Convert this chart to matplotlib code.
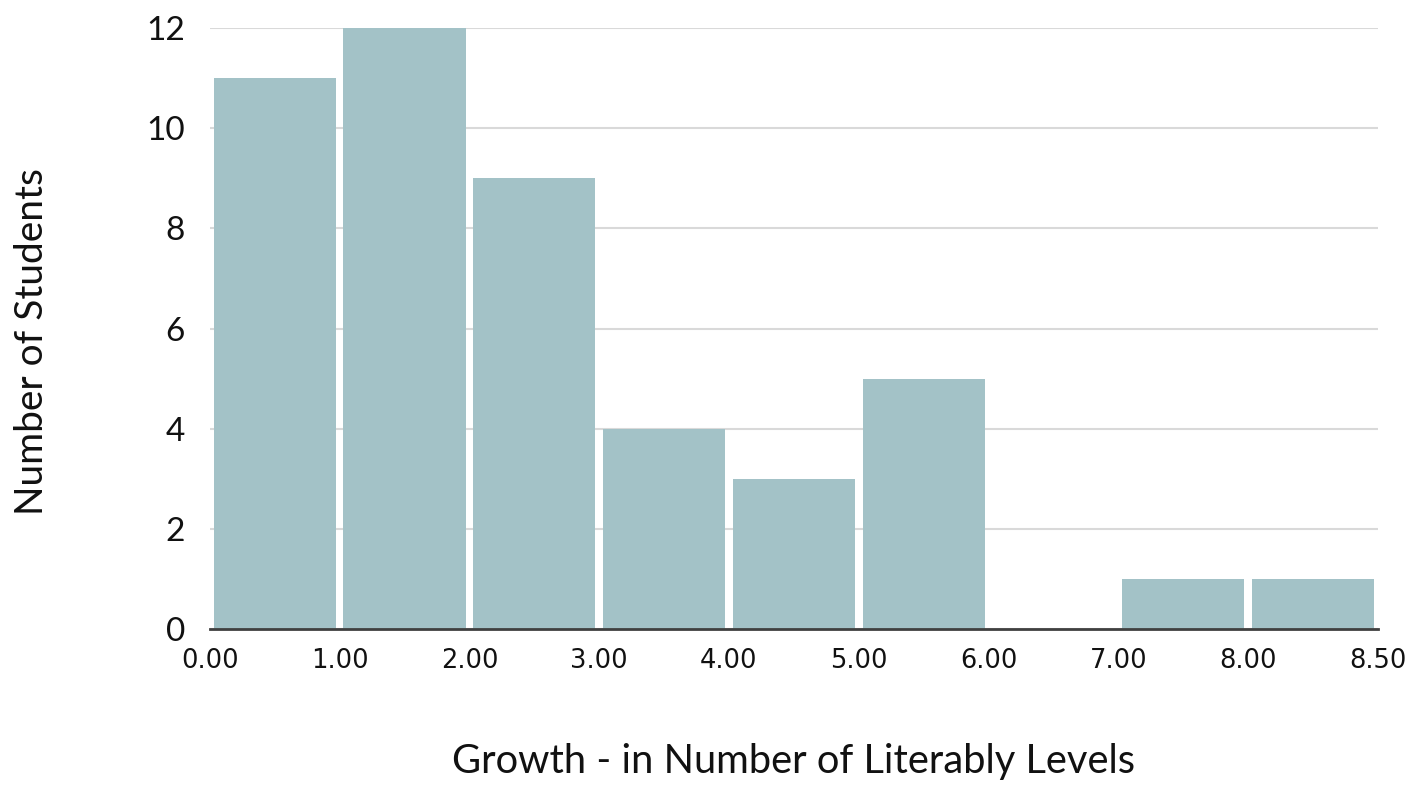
import matplotlib
matplotlib.use("Agg")
import matplotlib.pyplot as plt

# Histogram of literacy-level growth
bin_labels = ["0.00", "1.00", "2.00", "3.00", "4.00", "5.00", "6.00", "7.00", "8.00", "8.50"]
counts = [11, 12, 9, 4, 3, 5, 0, 1, 1]
y_ticks = [0, 2, 4, 6, 8, 10, 12]

bar_color = "#A3C2C7"
grid_color = "#D9D9D9"
axis_color = "#404040"
title_font = "Lato"
tick_font = "DejaVu Sans"

fig = plt.figure(figsize=(14.08, 7.85), dpi=100)
ax = fig.add_axes([0.149, 0.1987, 0.8297, 0.7656])

centers = [i + 0.5 for i in range(len(counts))]
ax.bar(centers, counts, width=0.94, color=bar_color, zorder=3)

ax.set_xlim(0, len(counts))
ax.set_ylim(0, 12)
ax.set_xticks(range(len(bin_labels)))
ax.set_xticklabels(bin_labels, fontsize=18.5, family=tick_font, color="#111111")
ax.set_yticks(y_ticks)
ax.set_yticklabels([str(v) for v in y_ticks], fontsize=24, family=title_font, color="#111111")

ax.tick_params(axis="x", length=0, pad=14)
ax.tick_params(axis="y", length=0, pad=18)

ax.grid(axis="y", color=grid_color, linewidth=1.5, zorder=0)
for side in ["top", "right", "left"]:
    ax.spines[side].set_visible(False)
ax.spines["bottom"].set_color(axis_color)
ax.spines["bottom"].set_linewidth(2)
ax.spines["bottom"].set_zorder(4)

ax.set_xlabel("Growth - in Number of Literably Levels", fontsize=28.7,
              family=title_font, color="#111111")
ax.xaxis.set_label_coords(0.5, -0.19)
ax.set_ylabel("Number of Students", fontsize=28, family=title_font, color="#111111")
ax.yaxis.set_label_coords(-0.137, 0.478)

fig.savefig("out.png", dpi=100, facecolor="white")
